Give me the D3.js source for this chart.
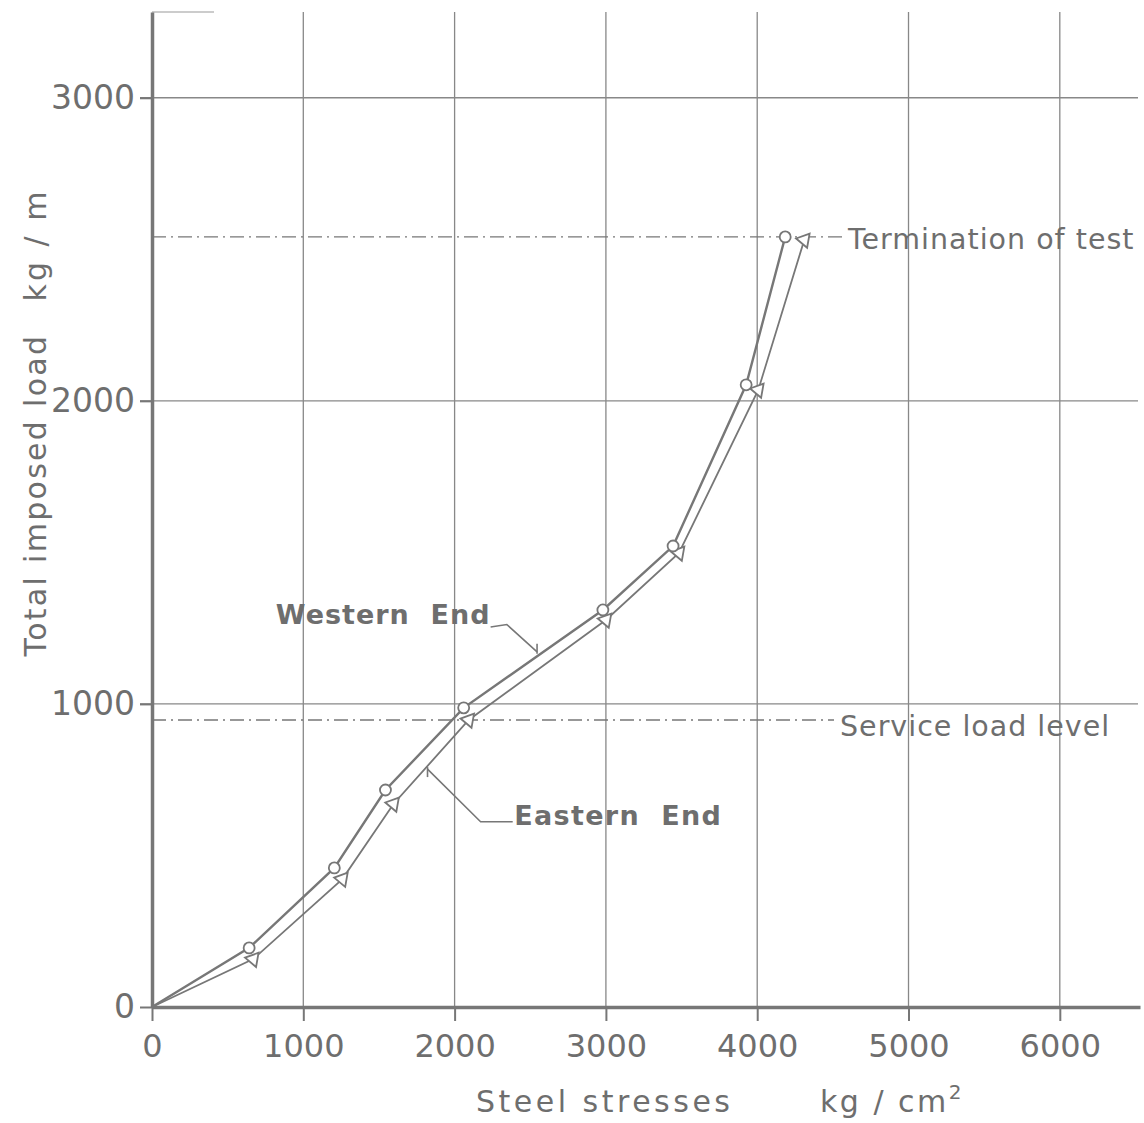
<!DOCTYPE html>
<html>
<head>
<meta charset="utf-8">
<script src="https://cdn.jsdelivr.net/npm/d3@7"></script>
<style>
  body { margin: 0; background: #fff; }
  svg text { font-family: "DejaVu Sans", "Liberation Sans", sans-serif; fill: #6e6e6e; }
</style>
</head>
<body>
<div id="canvas"></div>
<script>
// Datos (esfuerzo en kg/cm2, carga en kg/m)
const westStress = [0, 642, 1205, 1543, 2060, 2980, 3444, 3927, 4185];
const westLoad   = [0, 195, 459, 716, 987, 1310, 1521, 2053, 2541];
const eastStress = [0, 669, 1258, 1596, 2093, 3000, 3483, 4007, 4311];
const eastLoad   = [0, 158, 422, 670, 947, 1277, 1498, 2036, 2531];
const xTicks = [0, 1000, 2000, 3000, 4000, 5000, 6000];
const yTicks = [0, 1000, 2000, 3000];
const terminationLoad = 2541;
const serviceLoad = 947;

const west = westStress.map((s, i) => ({x: s, y: westLoad[i]}));
const east = eastStress.map((s, i) => ({x: s, y: eastLoad[i]}));

const width = 1144;
const height = 1123;
const margin = {top: 12, left: 152, bottom: 116, right: 4};
const iwidth = width - margin.left - margin.right;
const iheight = height - margin.top - margin.bottom;
const gray = "#777";

const svg = d3.select("#canvas").append("svg")
    .attr("width", width)
    .attr("height", height);

const g = svg.append("g").attr("transform", `translate(${margin.left}, ${margin.top})`);

// Escalas
const x = d3.scaleLinear().domain([0, 6530]).range([0, iwidth]);
const y = d3.scaleLinear().domain([0, 3283]).range([iheight, 0]);

// Rejilla vertical
g.selectAll(".vgrid").data(xTicks.filter(d => d > 0)).enter().append("line")
    .attr("x1", d => x(d)).attr("x2", d => x(d))
    .attr("y1", 0).attr("y2", iheight)
    .attr("stroke", "#888").attr("stroke-width", 1.3);

// Rejilla horizontal
g.selectAll(".hgrid").data(yTicks.filter(d => d > 0)).enter().append("line")
    .attr("x1", -12).attr("x2", iwidth - 2)
    .attr("y1", d => y(d)).attr("y2", d => y(d))
    .attr("stroke", "#888").attr("stroke-width", 1.3);

// pequeño trazo superior
g.append("line")
    .attr("x1", 0).attr("x2", 62).attr("y1", 0).attr("y2", 0)
    .attr("stroke", "#bbb").attr("stroke-width", 1.5);

// Eje x
const xAxis = g.append("g")
    .attr("transform", `translate(0, ${iheight})`)
    .call(d3.axisBottom(x).tickValues(xTicks).tickSize(14).tickSizeOuter(0).tickPadding(13).tickFormat(d3.format("d")));
xAxis.select(".domain").attr("stroke", gray).attr("stroke-width", 3.5);
xAxis.selectAll(".tick line").attr("stroke", gray).attr("stroke-width", 2);
xAxis.selectAll(".tick text").style("font-size", "32px").attr("fill", "#6e6e6e");

// Eje y
const yAxis = g.append("g")
    .call(d3.axisLeft(y).tickValues(yTicks).tickSize(12).tickSizeOuter(0).tickPadding(5).tickFormat(d3.format("d")));
yAxis.select(".domain").attr("stroke", gray).attr("stroke-width", 3.5);
yAxis.selectAll(".tick line").attr("stroke", gray).attr("stroke-width", 2);
yAxis.selectAll(".tick text").style("font-size", "33px").attr("fill", "#6e6e6e");

// Lineas de referencia (raya-punto)
g.append("line")
    .attr("x1", 0).attr("x2", 690)
    .attr("y1", y(terminationLoad)).attr("y2", y(terminationLoad))
    .attr("stroke", gray).attr("stroke-width", 1.4)
    .attr("stroke-dasharray", "14,5,2,5");
g.append("line")
    .attr("x1", 0).attr("x2", 682)
    .attr("y1", y(serviceLoad)).attr("y2", y(serviceLoad))
    .attr("stroke", gray).attr("stroke-width", 1.4)
    .attr("stroke-dasharray", "14,5,2,5");

g.append("text")
    .attr("x", 696).attr("y", y(terminationLoad) + 12)
    .style("font-size", "28.5px").style("letter-spacing", "1px")
    .text("Termination of test");
g.append("text")
    .attr("x", 688).attr("y", y(serviceLoad) + 16)
    .style("font-size", "28.5px").style("letter-spacing", "1px")
    .text("Service load level");

// Curvas
const line = d3.line().x(d => x(d.x)).y(d => y(d.y));

g.append("path").datum(east)
    .attr("fill", "none").attr("stroke", gray).attr("stroke-width", 1.8)
    .attr("d", line);
g.append("path").datum(west)
    .attr("fill", "none").attr("stroke", gray).attr("stroke-width", 2.4)
    .attr("d", line);

// Marcadores
g.selectAll(".tri").data(east.slice(1)).enter().append("path")
    .attr("d", d3.symbol().type(d3.symbolTriangle).size(90))
    .attr("transform", d => `translate(${x(d.x)}, ${y(d.y)}) rotate(160)`)
    .attr("fill", "#fff").attr("stroke", gray).attr("stroke-width", 1.8);
g.selectAll(".circ").data(west.slice(1)).enter().append("circle")
    .attr("cx", d => x(d.x)).attr("cy", d => y(d.y)).attr("r", 5.5)
    .attr("fill", "#fff").attr("stroke", gray).attr("stroke-width", 1.8);

// Anotaciones con lineas guia
const westLeader = [[2238, 1254], [2345, 1262], [2545, 1172]];
const eastLeader = [[2384, 611], [2172, 611], [1821, 785]];
const leader = d3.line().x(d => x(d[0])).y(d => y(d[1]));

g.append("path").attr("d", leader(westLeader))
    .attr("fill", "none").attr("stroke", gray).attr("stroke-width", 1.6);
g.append("line")
    .attr("x1", x(2545)).attr("x2", x(2545))
    .attr("y1", y(1172) - 8).attr("y2", y(1172) + 2)
    .attr("stroke", gray).attr("stroke-width", 1.6);
g.append("path").attr("d", leader(eastLeader))
    .attr("fill", "none").attr("stroke", gray).attr("stroke-width", 1.6);
g.append("line")
    .attr("x1", x(1821)).attr("x2", x(1821))
    .attr("y1", y(785) - 2).attr("y2", y(785) + 8)
    .attr("stroke", gray).attr("stroke-width", 1.6);

g.append("text")
    .attr("x", x(2238)).attr("y", y(1254) - 3)
    .attr("text-anchor", "end")
    .style("font-size", "27px").style("font-weight", "bold").style("letter-spacing", "1px")
    .attr("xml:space", "preserve")
    .text("Western  End");
g.append("text")
    .attr("x", x(2395)).attr("y", y(611) + 3)
    .style("font-size", "27px").style("font-weight", "bold").style("letter-spacing", "1.3px")
    .attr("xml:space", "preserve")
    .text("Eastern  End");

// Titulos de ejes
svg.append("text")
    .attr("x", 476).attr("y", 1112)
    .style("font-size", "30px").style("letter-spacing", "3.5px")
    .text("Steel stresses");
svg.append("text")
    .attr("x", 820).attr("y", 1112)
    .style("font-size", "30px").style("letter-spacing", "2.5px")
    .text("kg / cm")
    .append("tspan").attr("dy", -13).style("font-size", "20px").text("2");

svg.append("text")
    .attr("transform", "translate(46, 495) rotate(-90)")
    .attr("text-anchor", "middle")
    .style("font-size", "30px").style("letter-spacing", "2.3px")
    .text("Total imposed load");
svg.append("text")
    .attr("transform", "translate(46, 245) rotate(-90)")
    .attr("text-anchor", "middle")
    .style("font-size", "30px").style("letter-spacing", "3px")
    .text("kg / m");
</script>
</body>
</html>
